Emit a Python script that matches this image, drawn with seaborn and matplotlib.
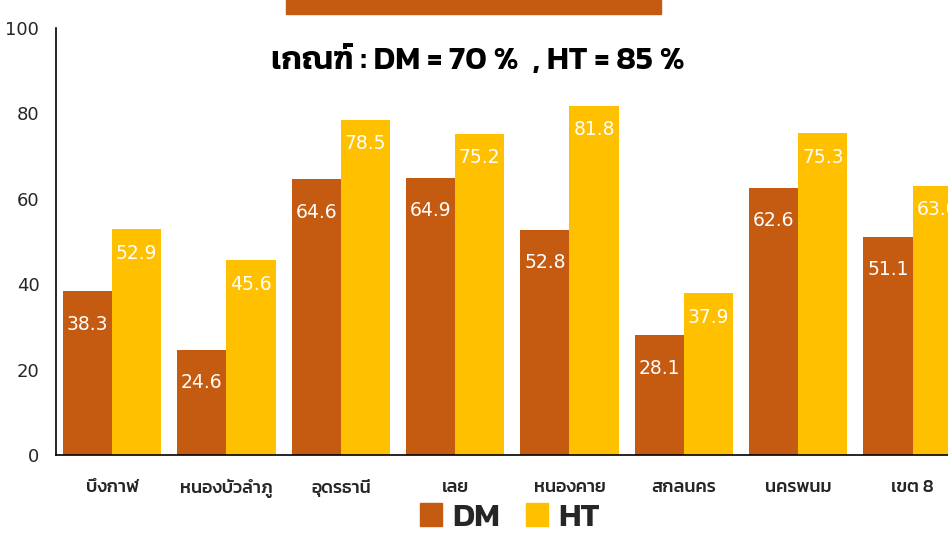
import numpy as np
import pandas as pd
import matplotlib
matplotlib.use('Agg')
import matplotlib.pyplot as plt
import seaborn as sns
from matplotlib import font_manager
from matplotlib.ft2font import FT2Font
from matplotlib.patches import Rectangle

# Data
provinces = ['บึงกาฬ', 'หนองบัวลำภู', 'อุดรธานี', 'เลย', 'หนองคาย', 'สกลนคร', 'นครพนม', 'เขต 8']
dm_values = [38.3, 24.6, 64.6, 64.9, 52.8, 28.1, 62.6, 51.1]
ht_values = [52.9, 45.6, 78.5, 75.2, 81.8, 37.9, 75.3, 63.0]
series_names = ['DM', 'HT']
title_text = 'เกณฑ์ : DM = 70 %  , HT = 85 %'

# find a font with Thai glyphs, prefer one that also has a bold face
weights = {}
for f in font_manager.fontManager.ttflist:
    try:
        cmap = FT2Font(f.fname).get_charmap()
    except Exception:
        continue
    if 0x0E01 in cmap:
        w = f.weight if isinstance(f.weight, int) else 400
        weights.setdefault(f.name, set()).add(w)
thai_family = None
if weights:
    thai_family = sorted(weights, key=lambda n: (-max(weights[n]), n))[0]

sns.set_theme(style='white')
thai_fonts = ([thai_family] if thai_family else []) + ['DejaVu Sans']
plt.rcParams['font.family'] = thai_fonts

df = pd.DataFrame({'province': provinces * 2,
                   'value': dm_values + ht_values,
                   'series': [series_names[0]] * len(provinces) + [series_names[1]] * len(provinces)})

colors = {'DM': '#C55A11', 'HT': '#FFC000'}

fig = plt.figure(figsize=(9.48, 5.34), dpi=100)
ax = fig.add_axes([56 / 948, 79 / 534, 1 - 56 / 948, 427 / 534])

sns.barplot(data=df, x='province', y='value', hue='series', palette=colors,
            width=0.86, gap=0, saturation=1, linewidth=0, ax=ax, legend=False)

ax.set_ylim(0, 100)
ax.set_xlim(-0.49, 7.31)
ax.set_yticks([0, 20, 40, 60, 80, 100])
ax.tick_params(axis='y', labelsize=13, pad=12, length=0)
ax.tick_params(axis='x', labelsize=13, pad=17, length=0)
for lab in ax.get_yticklabels():
    lab.set_family('DejaVu Sans')
for lab in ax.get_xticklabels():
    lab.set_fontweight('medium')
ax.set_xlabel('')
ax.set_ylabel('')
for s in ['top', 'right']:
    ax.spines[s].set_visible(False)
for s in ['left', 'bottom']:
    ax.spines[s].set_color('black')
    ax.spines[s].set_linewidth(1.2)

# value labels
for container, off in zip(ax.containers, [-33, -24]):
    for bar in container:
        h = bar.get_height()
        ax.annotate(f'{h:.1f}', (bar.get_x() + bar.get_width() / 2, h),
                    xytext=(0, off * 0.72), textcoords='offset points',
                    ha='center', va='center', color='white', fontsize=13.5,
                    family='DejaVu Sans')

fig.text(478 / 948, 1 - 61 / 534, title_text, ha='center', va='center',
         fontsize=23.5, fontweight='semibold', color='black')

# clipped title bar at top
fig.patches.append(Rectangle((286 / 948, 1 - 14 / 534), 375 / 948, 14 / 534,
                             transform=fig.transFigure, color='#C55A11', zorder=0))

# legend
handles = [Rectangle((0, 0), 1, 1, color=colors[s]) for s in series_names]
fig.legend(handles, series_names, loc='center', bbox_to_anchor=(510 / 948, 1 - 518 / 534),
           ncol=2, frameon=False, prop={'size': 24, 'weight': 'semibold'},
           handlelength=0.66, handleheight=0.66, handletextpad=0.3, columnspacing=0.8,
           borderpad=0.1)

fig.savefig('out.png', dpi=100)
